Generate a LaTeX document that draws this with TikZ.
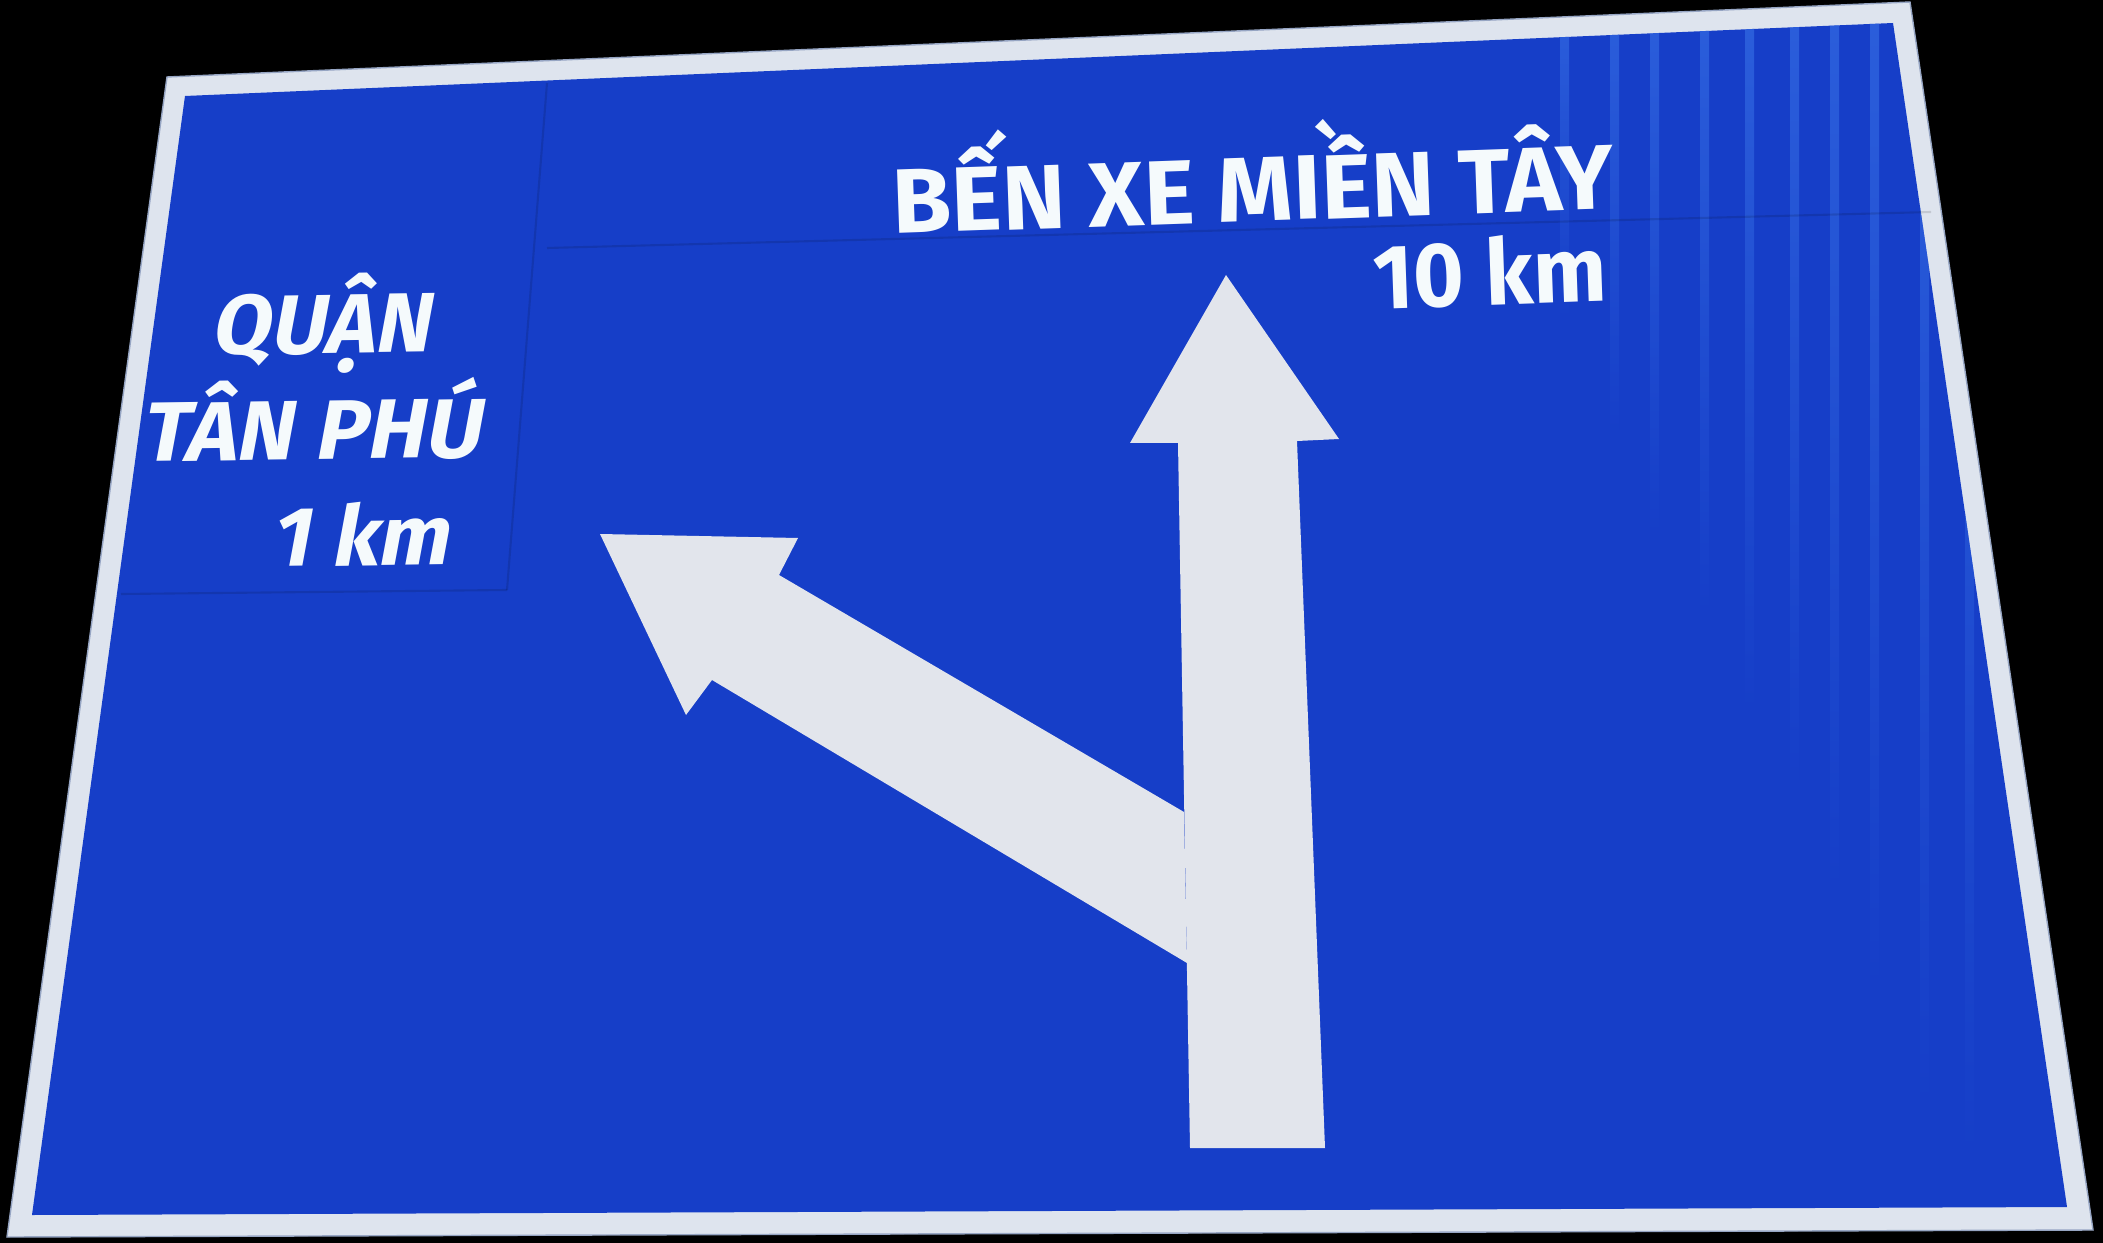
\documentclass[tikz,border=0pt]{standalone}
\usepackage{fontspec}
\newfontfamily\signfont{Fira Sans}
\usepackage{tikz}
\usetikzlibrary{calc, positioning}
\usepackage{xcolor}
\definecolor{signblue}{RGB}{22,62,200}
\definecolor{streakblue}{RGB}{60,120,235}
\definecolor{rimgrey}{RGB}{222,228,238}
\definecolor{rimedge}{RGB}{150,165,195}
\definecolor{arrowgrey}{RGB}{226,229,236}
\definecolor{signwhite}{RGB}{245,250,252}
\tikzstyle{signtext} = [%
  text=signwhite,
  inner sep=0pt,
  text depth=0pt,
  font=\signfont\bfseries\fontsize{26}{30}\selectfont
]
\tikzstyle{lefttext} = [%
  signtext,
  xslant=0.2,
  rotate=0.8,
  font=\signfont\bfseries\fontsize{24}{28}\selectfont
]

\begin{document}
\begin{tikzpicture}[%
  x=0.01cm, y=-0.01cm,
  rim/.style={fill=rimgrey, draw=rimedge, line width=0.4pt},
  plate/.style={fill=signblue},
  arrowshape/.style={fill=arrowgrey},
  seam/.style={draw=black, opacity=0.12, line width=0.6pt}
]

  % Background
  \fill[black] (0,0) rectangle (2103,1243);
  \useasboundingbox (0,0) rectangle (2103,1243);

  % Sign plate
  \path[rim] (167,77) -- (1910,2) -- (2093,1230) -- (7,1237) -- cycle;
  \path[plate] (185,96) -- (1893,23) -- (2067,1207) -- (32,1215) -- cycle;

  % Reflective streaks, top right
  \begin{scope}
    \clip (185,96) -- (1893,23) -- (2067,1207) -- (32,1215) -- cycle;
    \foreach \sx/\sl in {1560/300,1610/420,1650/520,1700/600,1745/700,1790/780,1830/880,1870/980,1920/1100,1965/1150}
      \shade[top color=streakblue, bottom color=signblue, opacity=0.55]
        (\sx,20) rectangle ++(9,\sl);
  \end{scope}

  % Panel seams
  \draw[seam] (547,83) -- (507,590);
  \draw[seam] (547,248) -- (1931,212);
  \draw[seam] (121,594) -- (507,590);

  % Arrows
  \path[arrowshape] (600,534) -- (798,538) -- (779,575) -- (1184,812)
    -- (1187,963) -- (712,680) -- (686,715) -- cycle;
  \path[arrowshape] (1226,275) -- (1339,439) -- (1297,441) -- (1325,1148)
    -- (1190,1148) -- (1178,443) -- (1130,443) -- cycle;

  % Nodes
  \node[signtext, anchor=base west, rotate=2, xscale=1.05] (dest) at (893,234) {BẾN XE MIỀN TÂY};
  \node[signtext, anchor=base east, rotate=2, xscale=0.95] (destkm) at (1608,301) {10 km};
  \node[lefttext, anchor=base west] (distA) at (210,355) {QUẬN};
  \node[lefttext, anchor=base west, xscale=1.03] (distB) at (140,462) {TÂN PHÚ};
  \node[lefttext, anchor=base west] (distkm) at (270,567) {1 km};

\end{tikzpicture}
\end{document}
